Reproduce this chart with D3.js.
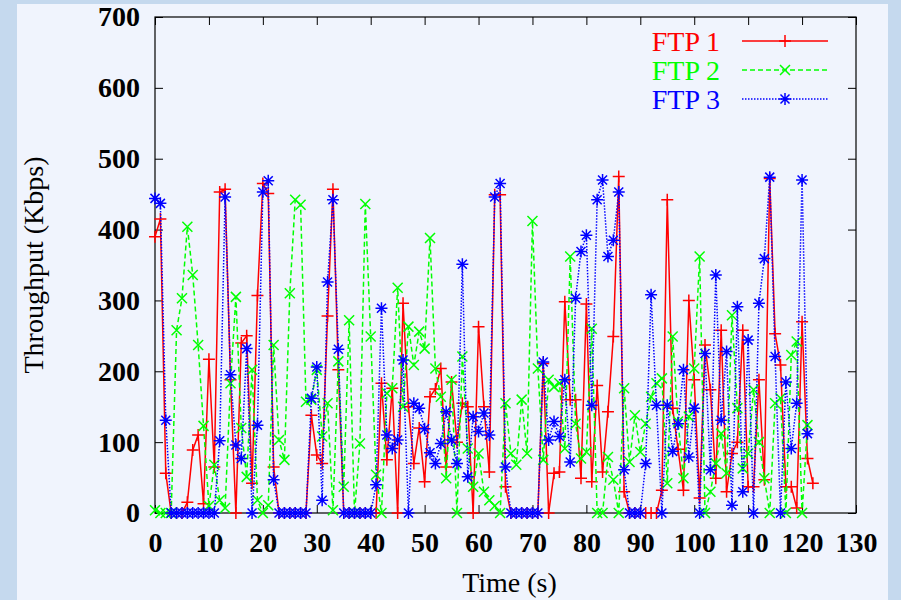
<!DOCTYPE html>
<html><head><meta charset="utf-8">
<script src="https://cdn.jsdelivr.net/npm/d3@7"></script>
<style>
html,body{margin:0;padding:0;background:#c5d9ee;}
svg{display:block;}
</style></head><body>
<svg id="c" width="901" height="600"></svg>
<script>
const timeSec = [0,1,2,3,4,5,6,7,8,9,10,11,12,13,14,15,16,17,18,19,20,21,22,23,24,25,26,27,28,29,
30,31,32,33,34,35,36,37,38,39,40,41,42,43,44,45,46,47,48,49,50,51,52,53,54,55,56,57,58,59,
60,61,62,63,64,65,66,67,68,69,70,71,72,73,74,75,76,77,78,79,80,81,82,83,84,85,86,87,88,89,
90,91,92,93,94,95,96,97,98,99,100,101,102,103,104,105,106,107,108,109,110,111,112,113,114,115,116,117,118,119,
120,121,122];

const ftp1 = [390,415,56,0,0,0,15,89,110,13,
 217,65,453,457,188,0,240,250,42,307,
 465,451,65,0,0,0,0,0,0,138,
 82,70,278,457,202,0,0,0,0,0,
 0,0,183,75,176,0,296,150,70,120,
 44,164,175,204,65,185,100,155,150,0,
 263,150,58,449,449,37,0,0,0,0,
 0,0,211,0,56,58,298,160,160,49,
 295,44,180,58,143,249,475,30,0,0,
 0,0,0,0,32,442,148,90,32,300,
 188,21,237,174,49,258,30,84,100,258,
 37,37,188,47,472,253,209,37,37,7,
 270,77,42];

const ftp2 = [4,0,0,0,258,303,404,336,237,123,
 10,68,18,7,183,305,120,51,202,18,
 0,11,237,103,75,310,442,435,157,160,
 202,108,155,4,214,37,272,0,98,436,
 249,54,0,169,176,318,150,263,209,256,
 232,388,204,164,49,188,0,221,91,37,
 84,30,18,10,0,155,84,68,160,84,
 412,204,75,188,178,183,91,362,126,77,
 86,260,0,0,79,47,0,176,72,138,
 86,126,164,183,190,42,249,129,49,136,
 204,362,0,30,70,112,56,279,148,63,
 84,174,100,49,0,155,162,0,223,242,
 0,124];

const ftp3 = [444,437,131,0,0,0,0,0,0,0,
 0,0,102,446,195,96,77,232,0,124,
 453,469,47,0,0,0,0,0,0,162,
 206,18,326,442,231,0,0,0,0,0,
 0,40,289,110,91,103,216,0,155,148,
 119,85,70,98,143,103,70,351,51,136,
 115,141,110,446,465,65,0,0,0,0,
 0,0,213,103,129,108,188,72,303,369,
 392,152,442,470,362,385,453,61,0,0,
 0,70,308,152,0,152,87,126,202,79,
 148,0,225,61,336,131,228,11,291,30,
 244,0,296,359,474,221,0,185,91,155,
 470,112];

const seriesNames = ["FTP 1","FTP 2","FTP 3"];
const xTicks = [0,10,20,30,40,50,60,70,80,90,100,110,120,130];
const yTicks = [0,100,200,300,400,500,600,700];
const xTitle = "Time (s)";
const yTitle = "Throughput (Kbps)";

const FONT = "'Liberation Serif','Times New Roman',serif";
const svg = d3.select("#c");
svg.append("rect").attr("x",0).attr("y",0).attr("width",901).attr("height",600).attr("fill","#c5d9ee");
svg.append("rect").attr("x",17).attr("y",4).attr("width",871).attr("height",596).attr("fill","#f0f4fd");

const P = {l:155, r:856, t:17, b:513};
const x = d3.scaleLinear().domain([0,130]).range([P.l,P.r]);
const y = d3.scaleLinear().domain([0,700]).range([P.b,P.t]);

function styleAxis(g, showText){
  g.select(".domain").remove();
  g.selectAll(".tick line").attr("stroke","#000").attr("stroke-width",1);
  g.selectAll(".tick text").attr("fill","#000").style("font-family",FONT).style("font-size","28px").style("font-weight","bold");
  if(!showText) g.selectAll(".tick text").remove();
}
svg.append("g").attr("transform",`translate(0,${P.b})`)
  .call(d3.axisBottom(x).tickValues(xTicks).tickSizeInner(-8).tickSizeOuter(0).tickPadding(19).tickFormat(d3.format("d")))
  .call(g=>styleAxis(g,true));
svg.append("g").attr("transform",`translate(0,${P.t})`)
  .call(d3.axisTop(x).tickValues(xTicks).tickSizeInner(-8).tickSizeOuter(0))
  .call(g=>styleAxis(g,false));
svg.append("g").attr("transform",`translate(${P.l},0)`)
  .call(d3.axisLeft(y).tickValues(yTicks).tickSizeInner(-8).tickSizeOuter(0).tickPadding(15).tickFormat(d3.format("d")))
  .call(g=>styleAxis(g,true));
svg.append("g").attr("transform",`translate(${P.r},0)`)
  .call(d3.axisRight(y).tickValues(yTicks).tickSizeInner(-8).tickSizeOuter(0))
  .call(g=>styleAxis(g,false));

svg.append("rect").attr("x",P.l).attr("y",P.t).attr("width",P.r-P.l).attr("height",P.b-P.t)
  .attr("fill","none").attr("stroke","#000").attr("stroke-width",1.2);

svg.append("text").attr("x",(P.l+P.r)/2+4).attr("y",592).attr("text-anchor","middle")
  .style("font-family",FONT).style("font-size","28px").text(xTitle);
svg.append("text").attr("transform",`translate(43,${(P.t+P.b)/2}) rotate(-90)`).attr("text-anchor","middle")
  .style("font-family",FONT).style("font-size","28px").text(yTitle);

const markers = {
  plus: "M-6,0H6M0,-6V6",
  cross: "M-5,-5L5,5M-5,5L5,-5",
  star: "M-6,0H6M0,-6V6M-4.5,-4.5L4.5,4.5M-4.5,4.5L4.5,-4.5"
};
const series = [
  {name:seriesNames[0], vals:ftp1, color:"#ff0000", dash:null, marker:markers.plus},
  {name:seriesNames[1], vals:ftp2, color:"#00ff00", dash:"5,3", marker:markers.cross},
  {name:seriesNames[2], vals:ftp3, color:"#0000ff", dash:"1.5,1.5", marker:markers.star}
];
const line = d3.line().x(d=>x(d[0])).y(d=>y(d[1]));
series.forEach((s,i)=>{
  const pts = s.vals.map((v,k)=>[timeSec[k], v]);
  const g = svg.append("g");
  g.append("path").attr("d",line(pts)).attr("fill","none").attr("stroke",s.color)
    .attr("stroke-width",1.5).attr("stroke-dasharray",s.dash);
  g.selectAll("path.m").data(pts).enter().append("path").attr("class","m")
    .attr("transform",d=>`translate(${x(d[0])},${y(d[1])})`)
    .attr("d",s.marker).attr("stroke",s.color).attr("stroke-width",1.5).attr("fill","none");
  const ly = 41 + i*29;
  svg.append("text").attr("x",720).attr("y",ly+10).attr("text-anchor","end").attr("fill",s.color)
    .style("font-family",FONT).style("font-size","28px").text(s.name);
  svg.append("line").attr("x1",742).attr("x2",828).attr("y1",ly).attr("y2",ly)
    .attr("stroke",s.color).attr("stroke-width",1.5).attr("stroke-dasharray",s.dash);
  svg.append("path").attr("transform",`translate(785,${ly})`).attr("d",s.marker)
    .attr("stroke",s.color).attr("stroke-width",1.5).attr("fill","none");
});
</script>
</body></html>
